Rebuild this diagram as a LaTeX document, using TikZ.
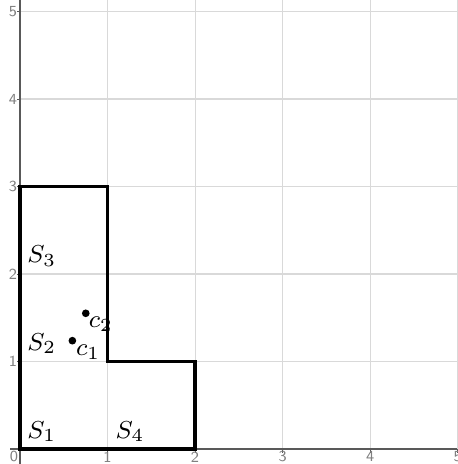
\documentclass[tikz,border=0pt]{standalone}
\usepackage{amsmath,amssymb}
\usepackage{tikz}
\usetikzlibrary{positioning}

\begin{document}
\begin{tikzpicture}[
    gridline/.style={gray!30, line width=0.35pt},
    axis/.style={black!65, line width=0.6pt},
    ticklbl/.style={font=\fontsize{5}{5}\selectfont\sffamily, text=gray, inner sep=0pt},
    region/.style={draw, line width=1.1pt, line join=miter},
    pt/.style={circle, fill, inner sep=0pt, minimum size=2.5pt},
    lbl/.style={font=\fontsize{8.5}{8.5}\selectfont, inner sep=0pt}
]
\useasboundingbox (-0.229,-0.171) rectangle (4.994,5.131);

% grid
\foreach \i in {1,...,5} {
    \draw[gridline] (\i,0) -- (\i,5.131);
    \draw[gridline] (0,\i) -- (4.994,\i);
}

% axes
\draw[axis] (-0.11,0) -- (4.994,0);
\draw[axis] (0,-0.171) -- (0,5.131);
\foreach \i in {1,...,5} {
    \draw[axis, line width=0.3pt] (\i,0) -- (\i,-0.04);
    \draw[axis, line width=0.3pt] (0,\i) -- (-0.04,\i);
    \node[ticklbl] (xt\i) at (\i,-0.09) {\i};
    \node[ticklbl] (yt\i) at (-0.08,\i) {\i};
}
\node[ticklbl] (o) at (-0.07,-0.09) {0};

% region
\draw[region] (0,0) -- (2,0) -- (2,1) -- (1,1) -- (1,3) -- (0,3) -- cycle;

% labels
\node[lbl, anchor=base west] (s1) at (0.077,0.126) {$S_{1}$};
\node[lbl, anchor=base west] (s2) at (0.077,1.131) {$S_{2}$};
\node[lbl, anchor=base west] (s3) at (0.077,2.126) {$S_{3}$};
\node[lbl, anchor=base west] (s4) at (1.086,0.126) {$S_{4}$};

% centroids
\node[pt] (c1) at (0.598,1.238) {};
\node[pt] (c2) at (0.751,1.551) {};
\node[lbl, below right=0.2pt and 0pt of c1] (c1l) {$c_{1}$};
\node[lbl, below right=0pt and -0.2pt of c2] (c2l) {$c_{2}$};
\end{tikzpicture}
\end{document}
